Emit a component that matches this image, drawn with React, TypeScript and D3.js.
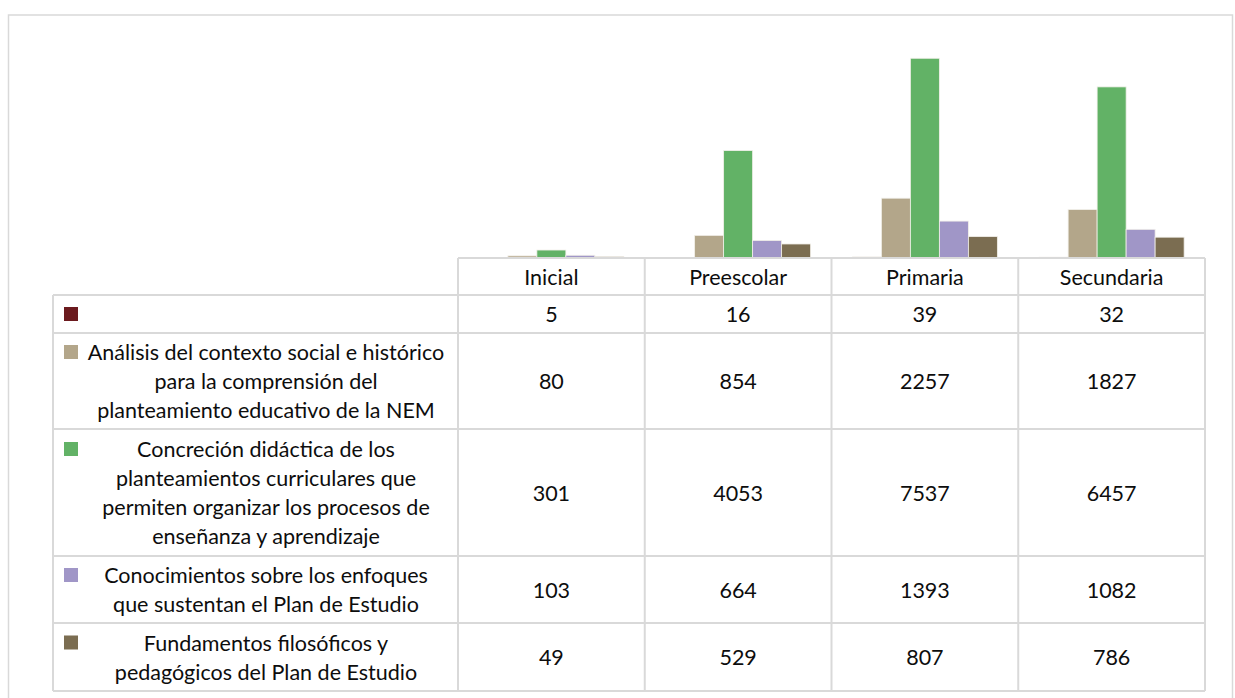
import React, { useEffect, useRef } from 'react';
import * as d3 from 'd3';

const categories = ['Inicial', 'Preescolar', 'Primaria', 'Secundaria'];

const seriesNames = [
  [''],
  ['Análisis del contexto social e histórico', 'para la comprensión del', 'planteamiento educativo de la NEM'],
  ['Concreción didáctica de los', 'planteamientos curriculares que', 'permiten organizar los procesos de', 'enseñanza y aprendizaje'],
  ['Conocimientos sobre los enfoques', 'que sustentan el Plan de Estudio'],
  ['Fundamentos filosóficos y', 'pedagógicos del Plan de Estudio'],
];

const seriesColors = ['#6B1A1E', '#B3A68A', '#62B266', '#A096C7', '#7B6D51'];

const blankValues = [5, 16, 39, 32];
const analisisValues = [80, 854, 2257, 1827];
const concrecionValues = [301, 4053, 7537, 6457];
const conocimientosValues = [103, 664, 1393, 1082];
const fundamentosValues = [49, 529, 807, 786];

const seriesValues = [blankValues, analisisValues, concrecionValues, conocimientosValues, fundamentosValues];

const yTicks = [0, 8000];

export default function App() {
  const svgRef = useRef<SVGSVGElement>(null);

  useEffect(() => {
    if (!svgRef.current) return;
    const width = 1235;
    const height = 698;
    const svg = d3.select(svgRef.current).attr('width', width).attr('height', height);
    svg.selectAll('*').remove();

    const font = 'Lato, "Noto Sans", sans-serif';
    const fontSize = 21.5;
    const lineColor = '#D9D9D9';

    // outer chart frame
    svg.append('rect')
      .attr('x', 8.5).attr('y', 15).attr('width', 1224).attr('height', 700)
      .attr('fill', '#fff').attr('stroke', lineColor).attr('stroke-width', 1.5);

    const tableLeft = 53;
    const baseY = 258;

    const x0 = d3.scaleBand<string>().domain(categories).range([458, 1205]).padding(0);
    const x1 = d3.scaleBand<number>()
      .domain(d3.range(seriesValues.length))
      .range([0, x0.bandwidth()])
      .paddingInner(0)
      .paddingOuter(0.72);
    const y = d3.scaleLinear().domain(d3.extent(yTicks) as [number, number]).range([baseY, 46]);

    // bars
    seriesValues.forEach((vals, si) => {
      svg.append('g').selectAll('rect')
        .data(vals)
        .join('rect')
        .attr('x', (d, i) => x0(categories[i])! + x1(si)!)
        .attr('y', d => y(d))
        .attr('width', x1.bandwidth())
        .attr('height', d => baseY - y(d))
        .attr('fill', seriesColors[si])
        .attr('stroke', '#F2F0EA')
        .attr('stroke-width', 0.8);
    });

    // table rows
    const rowLines = [1, 1, 3, 4, 2, 2];
    const rowBounds = [258, 295, 333, 429, 556, 623, 691];
    const lineH = 29;

    const grid = svg.append('g').attr('stroke', lineColor).attr('stroke-width', 2).attr('fill', 'none');
    grid.append('line').attr('x1', x0.range()[0]).attr('x2', x0.range()[1]).attr('y1', rowBounds[0]).attr('y2', rowBounds[0]);
    rowBounds.slice(1).forEach(yy => {
      grid.append('line').attr('x1', tableLeft).attr('x2', x0.range()[1]).attr('y1', yy).attr('y2', yy);
    });
    grid.append('line').attr('x1', tableLeft).attr('x2', tableLeft).attr('y1', rowBounds[1]).attr('y2', rowBounds[6]);
    categories.forEach(c => {
      grid.append('line').attr('x1', x0(c)!).attr('x2', x0(c)!).attr('y1', rowBounds[0]).attr('y2', rowBounds[6]);
    });
    grid.append('line').attr('x1', x0.range()[1]).attr('x2', x0.range()[1]).attr('y1', rowBounds[0]).attr('y2', rowBounds[6]);

    const text = svg.append('g')
      .attr('font-family', font)
      .attr('font-size', fontSize)
      .attr('fill', '#0d0d0d')
      .attr('text-anchor', 'middle')
      .attr('dominant-baseline', 'central');

    // header
    categories.forEach(c => {
      text.append('text')
        .attr('x', x0(c)! + x0.bandwidth() / 2)
        .attr('y', (rowBounds[0] + rowBounds[1]) / 2)
        .text(c);
    });

    seriesValues.forEach((vals, si) => {
      const top = rowBounds[si + 1];
      const bottom = rowBounds[si + 2];
      const mid = (top + bottom) / 2;
      const lines = seriesNames[si];
      const n = rowLines[si + 1];
      const firstY = mid - ((n - 1) * lineH) / 2;

      svg.append('rect')
        .attr('x', 64).attr('y', firstY - 7)
        .attr('width', 14).attr('height', 14)
        .attr('fill', seriesColors[si]);

      lines.forEach((ln, li) => {
        if (!ln) return;
        text.append('text')
          .attr('x', 266)
          .attr('y', firstY + li * lineH)
          .text(ln);
      });

      vals.forEach((v, i) => {
        text.append('text')
          .attr('x', x0(categories[i])! + x0.bandwidth() / 2)
          .attr('y', mid)
          .text(String(v));
      });
    });
  }, []);

  return (
    <svg ref={svgRef} style={{ position: 'absolute', left: 0, top: 0, background: '#fff' }} />
  );
}
